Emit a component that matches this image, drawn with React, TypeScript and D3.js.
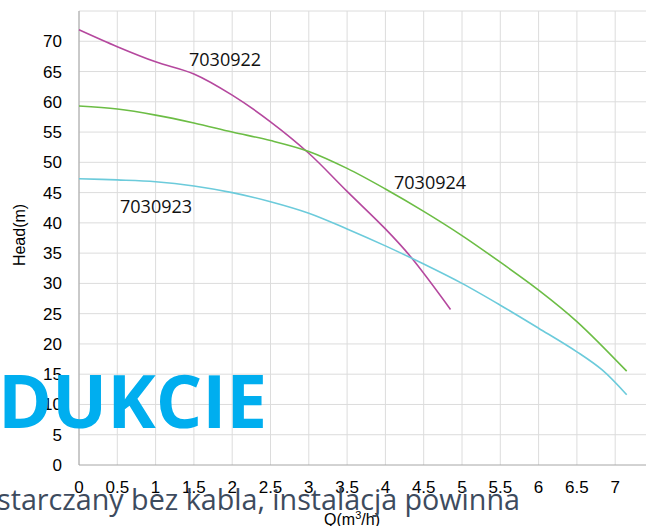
import React from "react";
import * as d3 from "d3";

const xTicks = [0, 0.5, 1, 1.5, 2, 2.5, 3, 3.5, 4, 4.5, 5, 5.5, 6, 6.5, 7];
const xGrid = [0, 0.5, 1, 1.5, 2, 2.5, 3, 3.5, 4, 4.5, 5, 5.5, 6, 6.5, 7, 7.5];
const yTicks = [0, 5, 10, 15, 20, 25, 30, 35, 40, 45, 50, 55, 60, 65, 70];
const yGrid = [5, 10, 15, 20, 25, 30, 35, 40, 45, 50, 55, 60, 65, 70, 75];

const q922 = [0, 0.5, 1, 1.5, 2, 2.5, 3, 3.5, 4, 4.33, 4.85];
const h922 = [71.9, 69.1, 66.6, 64.6, 61.1, 56.7, 51.5, 45.2, 39.0, 34.4, 25.7];

const q924 = [0, 0.5, 1, 1.5, 2, 2.5, 3, 3.5, 4, 4.5, 5, 5.5, 6, 6.5, 7.15];
const h924 = [59.3, 58.8, 57.8, 56.5, 55.0, 53.6, 51.8, 49.0, 45.6, 41.9, 37.9, 33.5, 28.9, 23.7, 15.5];

const q923 = [0, 0.5, 1, 1.5, 2, 2.5, 3, 3.5, 4, 4.5, 5, 5.5, 6, 6.5, 6.83, 7.15];
const h923 = [47.3, 47.1, 46.8, 46.1, 45.0, 43.5, 41.6, 39.0, 36.2, 33.2, 30.0, 26.4, 22.6, 18.7, 15.7, 11.6];

const series = [
	{ name: "7030922", q: q922, h: h922, color: "#b5489e", lx: 189, ly: 65.5 },
	{ name: "7030924", q: q924, h: h924, color: "#6cbd45", lx: 394, ly: 188.5 },
	{ name: "7030923", q: q923, h: h923, color: "#6ccbdb", lx: 120, ly: 213 },
];

const width = 646;
const height = 526;

const App = () => {
	const xScale = d3.scaleLinear().domain([0, 7.5]).range([79, 653.5]);
	const yScale = d3.scaleLinear().domain([0, 75]).range([465, 11]);
	const line = d3
		.line<[number, number]>()
		.x((d) => xScale(d[0]))
		.y((d) => yScale(d[1]))
		.curve(d3.curveCatmullRom.alpha(0.5));

	const axisFont = "'Liberation Sans', Arial, sans-serif";

	return (
		<svg
			width={width}
			height={height}
			style={{ position: "absolute", left: 0, top: 0, background: "#fff" }}
		>
			{/* grid */}
			{yGrid.map((v) => (
				<line
					key={"gy" + v}
					x1={xScale(0)}
					x2={width}
					y1={yScale(v)}
					y2={yScale(v)}
					stroke="#dcdcdc"
					strokeWidth={1}
				/>
			))}
			{xGrid.map((v) => (
				<line
					key={"gx" + v}
					x1={xScale(v)}
					x2={xScale(v)}
					y1={yScale(75)}
					y2={yScale(0)}
					stroke="#dcdcdc"
					strokeWidth={1}
				/>
			))}
			{/* axes */}
			<line x1={xScale(0)} x2={width} y1={yScale(0)} y2={yScale(0)} stroke="#a6a6a6" />
			<line x1={xScale(0)} x2={xScale(0)} y1={yScale(75)} y2={yScale(0)} stroke="#a6a6a6" />

			{yTicks.map((v) => (
				<text
					key={"ty" + v}
					x={62}
					y={yScale(v) + 6}
					textAnchor="end"
					fontFamily={axisFont}
					fontSize={17}
					fill="#000"
				>
					{v}
				</text>
			))}
			{xTicks.map((v) => (
				<text
					key={"tx" + v}
					x={xScale(v)}
					y={493}
					textAnchor="middle"
					fontFamily={axisFont}
					fontSize={17}
					fill="#000"
				>
					{v}
				</text>
			))}
			<text
				transform={`translate(25,235) rotate(-90)`}
				textAnchor="middle"
				fontFamily={axisFont}
				fontSize={16}
				fill="#000"
			>
				Head(m)
			</text>
			<text x={352} y={525} textAnchor="middle" fontFamily={axisFont} fontSize={16} fill="#000">
				Q(m<tspan dy={-6} fontSize={11}>3</tspan>
				<tspan dy={6}>/h)</tspan>
			</text>

			{/* curves */}
			{series.map((s) => (
				<g key={s.name}>
					<path
						d={line(s.q.map((q, i) => [q, s.h[i]] as [number, number])) || ""}
						fill="none"
						stroke={s.color}
						strokeWidth={1.6}
					/>
					<text
						x={s.lx}
						y={s.ly}
						fontFamily="'Open Sans', sans-serif"
						fontSize={18}
						fill="#111"
					>
						{s.name}
					</text>
				</g>
			))}

			{/* page overlay */}
			<text
				x={-2}
				y={428}
				fontFamily="'Open Sans', sans-serif"
				fontWeight={700}
				fontSize={73}
				fill="#00aeef"
			>
				DUKCIE
			</text>
			<text
				x={-3}
				y={510}
				fontFamily="'Open Sans', sans-serif"
				fontSize={28.7}
				fill="#3d4b5e"
			>
				starczany bez kabla, instalacja powinna
			</text>
		</svg>
	);
};

export default App;
